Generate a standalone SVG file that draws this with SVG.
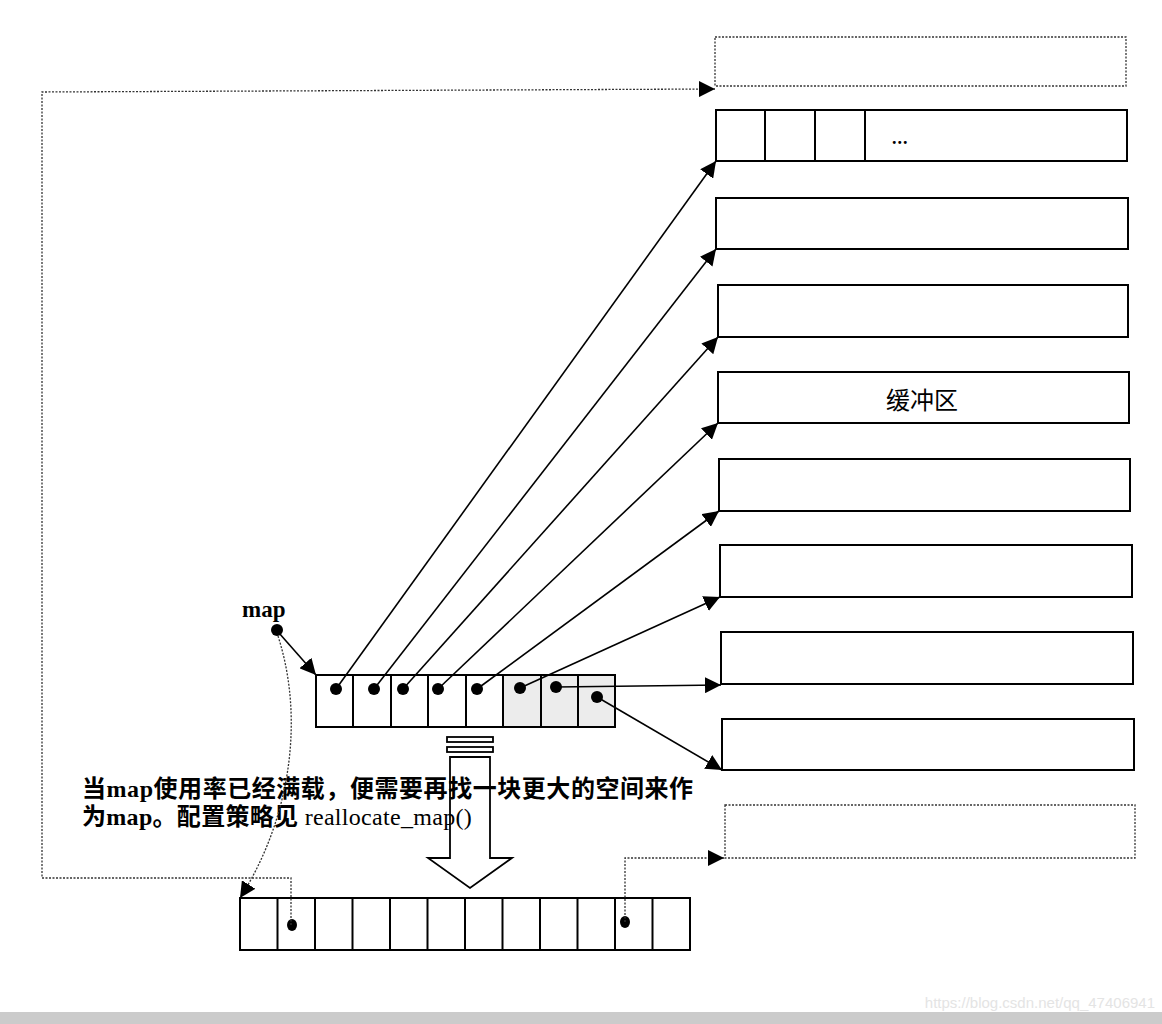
<svg xmlns="http://www.w3.org/2000/svg" width="1162" height="1024" viewBox="0 0 1162 1024">
<style>
.box{fill:#fff;stroke:#000;stroke-width:2}
.dbox{fill:none;stroke:#333;stroke-width:1.3;stroke-dasharray:2 1.5}
.cell{fill:#fff;stroke:#000;stroke-width:2}
.shade{fill:#ececec;stroke:#000;stroke-width:2}
.ln{fill:none;stroke:#000;stroke-width:1.6}
.dl{fill:none;stroke:#333;stroke-width:1.3;stroke-dasharray:2 1.5}
.dot{fill:#000}
.cjk{font-family:"Noto Sans CJK SC",sans-serif;font-size:24px;font-weight:bold;fill:#000}
.lat{font-family:"Liberation Serif",serif}
</style>
<defs>
<marker id="ah" viewBox="0 0 10 10" refX="10" refY="5" markerWidth="16" markerHeight="16" markerUnits="userSpaceOnUse" orient="auto">
<path d="M0,0 L10,5 L0,10 Z" fill="#000"/>
</marker>
</defs>
<rect width="1162" height="1024" fill="#fff"/>

<g id="buf0"><rect class="dbox" x="715" y="37" width="411" height="49"/></g>
<g id="buf1"><rect class="box" x="716" y="110" width="411" height="51"/>
<line class="ln" x1="765" y1="110" x2="765" y2="161" style="stroke-width:2"/>
<line class="ln" x1="815" y1="110" x2="815" y2="161" style="stroke-width:2"/>
<line class="ln" x1="865" y1="110" x2="865" y2="161" style="stroke-width:2"/>
<text x="892" y="144" font-family="Liberation Serif, serif" font-size="18" font-weight="bold" letter-spacing="1">...</text></g>
<g id="buf2"><rect class="box" x="716" y="198" width="412" height="51"/></g>
<g id="buf3"><rect class="box" x="718" y="285" width="410" height="52"/></g>
<g id="buf4"><rect class="box" x="718" y="372" width="411" height="51"/>
<text x="922" y="409" text-anchor="middle" font-family="Noto Sans CJK SC, sans-serif" font-size="24">缓冲区</text></g>
<g id="buf5"><rect class="box" x="719" y="459" width="411" height="52"/></g>
<g id="buf6"><rect class="box" x="720" y="545" width="412" height="52"/></g>
<g id="buf7"><rect class="box" x="721" y="632" width="412" height="52"/></g>
<g id="buf8"><rect class="box" x="722" y="719" width="412" height="51"/></g>
<g id="buf9"><rect class="dbox" x="725" y="805" width="410" height="53"/></g>

<g id="map-label"><text x="242" y="617" font-family="Liberation Serif, serif" font-weight="bold" font-size="23">map</text>
<circle class="dot" cx="277" cy="630" r="6"/></g>

<g id="map-array">
<rect class="cell" x="316" y="675" width="37" height="52"/>
<rect class="cell" x="353" y="675" width="38" height="52"/>
<rect class="cell" x="391" y="675" width="37" height="52"/>
<rect class="cell" x="428" y="675" width="38" height="52"/>
<rect class="cell" x="466" y="675" width="37" height="52"/>
<rect class="shade" x="503" y="675" width="38" height="52"/>
<rect class="shade" x="541" y="675" width="37" height="52"/>
<rect class="shade" x="578" y="675" width="37" height="52"/>
<circle class="dot" cx="336" cy="689" r="6"/>
<circle class="dot" cx="374" cy="689" r="6"/>
<circle class="dot" cx="403" cy="689" r="6"/>
<circle class="dot" cx="438" cy="689" r="6"/>
<circle class="dot" cx="477" cy="689" r="6"/>
<circle class="dot" cx="520" cy="688" r="6"/>
<circle class="dot" cx="556" cy="687" r="6"/>
<circle class="dot" cx="597" cy="697" r="6"/>
</g>

<g id="new-map">
<rect class="cell" x="240" y="898" width="450" height="52"/>
<g class="ln" style="stroke-width:2">
<line x1="277.5" y1="898" x2="277.5" y2="950"/>
<line x1="315" y1="898" x2="315" y2="950"/>
<line x1="352.5" y1="898" x2="352.5" y2="950"/>
<line x1="390" y1="898" x2="390" y2="950"/>
<line x1="427.5" y1="898" x2="427.5" y2="950"/>
<line x1="465" y1="898" x2="465" y2="950"/>
<line x1="502.5" y1="898" x2="502.5" y2="950"/>
<line x1="540" y1="898" x2="540" y2="950"/>
<line x1="577.5" y1="898" x2="577.5" y2="950"/>
<line x1="615" y1="898" x2="615" y2="950"/>
<line x1="652.5" y1="898" x2="652.5" y2="950"/>
</g>
<ellipse class="dot" cx="292" cy="925" rx="5" ry="6"/>
<ellipse class="dot" cx="625" cy="922" rx="5" ry="6"/>
</g>

<g id="big-arrow">
<rect x="447" y="737" width="46" height="5" fill="#fff" stroke="#000" stroke-width="1.8"/>
<rect x="447" y="747" width="46" height="5" fill="#fff" stroke="#000" stroke-width="1.8"/>
<path d="M450,757 L490,757 L490,858 L512,858 L470,888 L428,858 L450,858 Z" fill="#fff" stroke="#000" stroke-width="1.8"/>
</g>

<g id="note">
<text class="cjk" x="82" y="797" letter-spacing="0.55">当<tspan class="lat">map</tspan>使用率已经满载，便需要再找一块更大的空间来作</text>
<text class="cjk" x="82" y="825" letter-spacing="0.3">为<tspan class="lat">map</tspan>。配置策略见<tspan class="lat" font-weight="normal"> reallocate_map()</tspan></text>
</g>

<g id="connectors">
<line class="ln" x1="279" y1="633" x2="316" y2="675" marker-end="url(#ah)"/>
<line class="ln" x1="336" y1="689" x2="716" y2="161" marker-end="url(#ah)"/>
<line class="ln" x1="374" y1="689" x2="716" y2="249" marker-end="url(#ah)"/>
<line class="ln" x1="403" y1="689" x2="718" y2="337" marker-end="url(#ah)"/>
<line class="ln" x1="438" y1="689" x2="718" y2="423" marker-end="url(#ah)"/>
<line class="ln" x1="477" y1="689" x2="719" y2="511" marker-end="url(#ah)"/>
<line class="ln" x1="520" y1="688" x2="720" y2="597" marker-end="url(#ah)"/>
<line class="ln" x1="556" y1="687" x2="721" y2="685" marker-end="url(#ah)"/>
<line class="ln" x1="597" y1="697" x2="722" y2="770" marker-end="url(#ah)"/>
<path class="dl" d="M278,636 C305,720 290,820 240,898" marker-end="url(#ah)"/>
<path class="dl" d="M291,925 L291,878 L42,878 L42,92 L715,89" marker-end="url(#ah)"/>
<path class="dl" d="M625,922 L625,858 L724,858" marker-end="url(#ah)"/>
</g>

<text x="1155" y="1008" text-anchor="end" font-family="Liberation Sans, sans-serif" font-size="15" fill="#e4e4e4">https://blog.csdn.net/qq_47406941</text>
<rect x="0" y="1012" width="1162" height="12" fill="#cbcbcb"/>
</svg>
